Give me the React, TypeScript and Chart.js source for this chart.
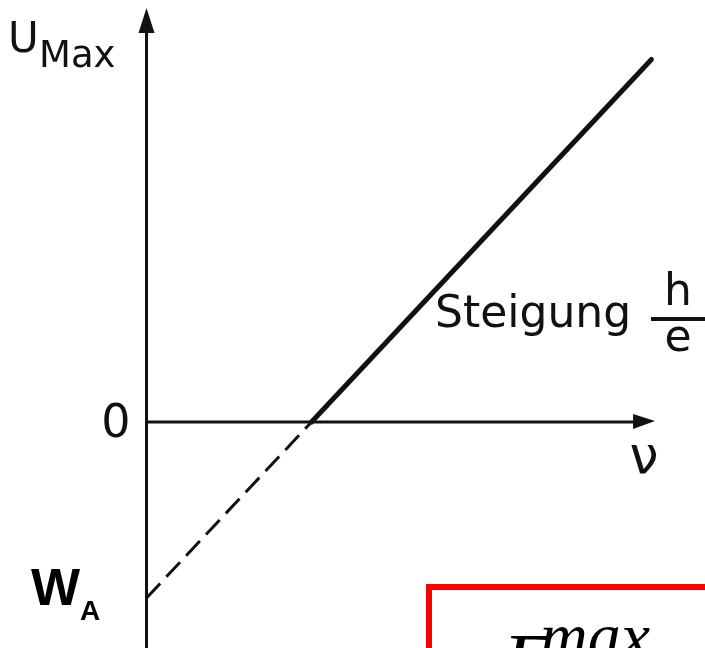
import React, { useEffect, useRef } from "react";
import { Chart, registerables } from "chart.js";

Chart.register(...registerables);

// Photoelectric effect: U_max = (h/e)·ν − W_A/e, in reduced units
const solidNu = [1, 3.06];
const solidU = [0, 2.06];
const dashedNu = [0, 1];
const dashedU = [-1, 0];

// Axis extents (data units) and visible window
const yAxisSpan = [-1.3, 2.352];
const xAxisSpan = [0, 3.082];
const nuRange = [-0.8879, 3.3848];
const uRange = [-1.2841, 2.3977];

const INK = "#111";

const toPoints = (xs: number[], ys: number[]) => xs.map((x, i) => ({ x, y: ys[i] }));

const axesPlugin = {
  id: "axesWithArrows",
  beforeDatasetsDraw(chart: any) {
    const { ctx } = chart;
    const xs = chart.scales.x;
    const ys = chart.scales.y;
    const x0 = xs.getPixelForValue(0);
    const y0 = ys.getPixelForValue(0);
    ctx.save();
    ctx.strokeStyle = INK;
    ctx.fillStyle = INK;
    ctx.lineWidth = 3;

    // vertical axis with arrow head
    const yTop = ys.getPixelForValue(yAxisSpan[1]);
    const yBot = ys.getPixelForValue(yAxisSpan[0]);
    ctx.beginPath();
    ctx.moveTo(x0, yBot);
    ctx.lineTo(x0, yTop + 20);
    ctx.stroke();
    ctx.beginPath();
    ctx.moveTo(x0, yTop);
    ctx.lineTo(x0 - 8, yTop + 25);
    ctx.lineTo(x0 + 8, yTop + 25);
    ctx.closePath();
    ctx.fill();

    // horizontal axis with arrow head
    const xEnd = xs.getPixelForValue(xAxisSpan[1]);
    const xStart = xs.getPixelForValue(xAxisSpan[0]);
    ctx.beginPath();
    ctx.moveTo(xStart, y0);
    ctx.lineTo(xEnd - 18, y0);
    ctx.stroke();
    ctx.beginPath();
    ctx.moveTo(xEnd, y0 - 1);
    ctx.lineTo(xEnd - 22, y0 - 8);
    ctx.lineTo(xEnd - 22, y0 + 7);
    ctx.closePath();
    ctx.fill();
    ctx.restore();
  },
  afterDraw(chart: any) {
    const { ctx } = chart;
    const xs = chart.scales.x;
    const ys = chart.scales.y;
    const x0 = xs.getPixelForValue(0);
    const y0 = ys.getPixelForValue(0);
    ctx.save();
    ctx.fillStyle = INK;
    ctx.textBaseline = "alphabetic";

    // y-axis title U_Max
    ctx.textAlign = "left";
    ctx.font = "42px 'DejaVu Sans'";
    ctx.fillText("U", 8, 52);
    ctx.font = "37px 'DejaVu Sans'";
    ctx.fillText("Max", 39, 67);

    // zero tick label
    ctx.textAlign = "right";
    ctx.font = "46px 'DejaVu Sans'";
    ctx.fillText("0", x0 - 16, y0 + 15);

    // frequency label ν
    ctx.textAlign = "center";
    ctx.font = "52px 'DejaVu Sans'";
    ctx.fillText("ν", xs.getPixelForValue(xAxisSpan[1]) - 11, y0 + 51);

    // slope annotation
    ctx.textAlign = "left";
    ctx.font = "44px 'DejaVu Sans'";
    ctx.fillText("Steigung", 435, 327);
    ctx.textAlign = "center";
    ctx.fillText("h", 678, 305);
    ctx.fillText("e", 678, 351);
    ctx.lineWidth = 4;
    ctx.strokeStyle = INK;
    ctx.beginPath();
    ctx.moveTo(651, 319);
    ctx.lineTo(712, 319);
    ctx.stroke();

    // work function W_A at the intercept
    ctx.fillStyle = "#000";
    ctx.textAlign = "left";
    ctx.font = "bold 52px 'Liberation Sans'";
    ctx.fillText("W", 31, 605);
    ctx.font = "bold 28px 'Liberation Sans'";
    ctx.fillText("A", 80, 620);

    // boxed formula E^max
    ctx.strokeStyle = "#ff0000";
    ctx.lineWidth = 6;
    ctx.strokeRect(429, 587, 400, 200);
    ctx.fillStyle = "#000";
    ctx.font = "italic 80px 'Liberation Serif'";
    ctx.fillText("E", 503, 689);
    ctx.font = "italic 66px 'Liberation Serif'";
    ctx.fillText("max", 540, 658);
    ctx.restore();
  },
};

export default function App() {
  const canvasRef = useRef<HTMLCanvasElement | null>(null);

  useEffect(() => {
    if (!canvasRef.current) return;
    const chart = new Chart(canvasRef.current, {
      type: "line",
      data: {
        datasets: [
          {
            data: toPoints(solidNu, solidU),
            borderColor: INK,
            borderWidth: 5,
            pointRadius: 0,
            borderCapStyle: "round",
            fill: false,
          },
          {
            data: toPoints(dashedNu, dashedU),
            borderColor: INK,
            borderWidth: 3,
            borderDash: [20, 9],
            pointRadius: 0,
            fill: false,
          },
        ],
      },
      options: {
        animation: false,
        responsive: false,
        devicePixelRatio: 1,
        layout: { padding: 0 },
        plugins: {
          legend: { display: false },
          tooltip: { enabled: false },
        },
        scales: {
          x: { type: "linear", min: nuRange[0], max: nuRange[1], display: false },
          y: { type: "linear", min: uRange[0], max: uRange[1], display: false },
        },
      },
      plugins: [axesPlugin],
    });
    return () => chart.destroy();
  }, []);

  return (
    <div
      style={{
        position: "fixed",
        left: 0,
        top: 0,
        width: 705,
        height: 648,
        background: "#fff",
        overflow: "hidden",
      }}
    >
      <canvas ref={canvasRef} width={705} height={648} style={{ display: "block" }} />
    </div>
  );
}
